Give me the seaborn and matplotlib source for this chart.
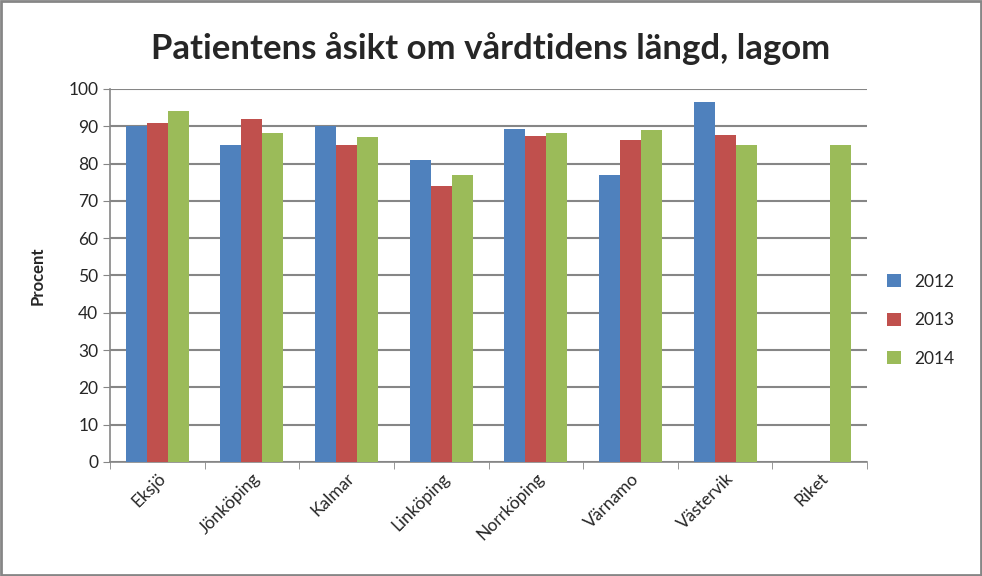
import pandas as pd
import numpy as np
import matplotlib.pyplot as plt
import seaborn as sns
from matplotlib.ticker import FixedLocator

sns.set_style('white')
plt.rcParams['font.family'] = ['Lato', 'DejaVu Sans']

# データ
sjukhus = ['Eksjö', 'Jönköping', 'Kalmar', 'Linköping', 'Norrköping', 'Värnamo', 'Västervik', 'Riket']
ar = ['2012', '2013', '2014']
v2012 = [90, 85, 90, 81, 89.3, 77, 96.5, np.nan]
v2013 = [91, 92, 85, 74, 87.4, 86.3, 87.6, np.nan]
v2014 = [94, 88.2, 87, 77, 88.2, 89, 85, 85]
farger = ['#4F81BD', '#C0504D', '#9BBB59']

df = pd.DataFrame({'Sjukhus': sjukhus * 3,
                   'År': [a for a in ar for _ in sjukhus],
                   'Procent': v2012 + v2013 + v2014})

fig = plt.figure(figsize=(9.82, 5.76), dpi=100)
ax = fig.add_axes([0.112, 0.198, 0.771, 0.6475])

sns.barplot(data=df, x='Sjukhus', y='Procent', hue='År', palette=farger,
            width=0.666, saturation=1, linewidth=0, ax=ax, zorder=3)

ax.set_ylim(0, 100)
ax.set_yticks(range(0, 101, 10))
ax.set_xlim(-0.5, len(sjukhus) - 0.5)
ax.yaxis.grid(True, color='#868686', linewidth=1.5, zorder=0)
ax.set_axisbelow(True)

for s in ['top', 'right']:
    ax.spines[s].set_visible(False)
for s in ['left', 'bottom']:
    ax.spines[s].set_color('#868686')
    ax.spines[s].set_linewidth(1.2)

ax.tick_params(axis='y', length=5, color='#868686', labelsize=12.5, left=True)
ax.tick_params(axis='x', length=0, labelsize=12.5, pad=6)
ax.xaxis.set_minor_locator(FixedLocator(np.arange(-0.5, len(sjukhus), 1)))
ax.tick_params(axis='x', which='minor', length=5, color='#868686', bottom=True)
plt.setp(ax.get_xticklabels(), rotation=45, ha='right', rotation_mode='anchor')

ax.set_xlabel('')
ax.set_ylabel('Procent', fontsize=12, fontweight='bold', labelpad=16)

fig.suptitle('Patientens åsikt om vårdtidens längd, lagom', fontsize=25,
             fontweight='bold', y=0.945)

handles, labels = ax.get_legend_handles_labels()
ax.legend_.remove()
fig.legend(handles, labels, loc='center left', bbox_to_anchor=(0.887, 0.444), frameon=False,
           fontsize=12.5, handlelength=0.8, handleheight=0.8, labelspacing=1.3)

fig.patches.append(plt.Rectangle((0.001, 0.001), 0.998, 0.997, transform=fig.transFigure,
                                 fill=False, edgecolor='#868686', linewidth=2))

fig.savefig('out.png', dpi=100)
